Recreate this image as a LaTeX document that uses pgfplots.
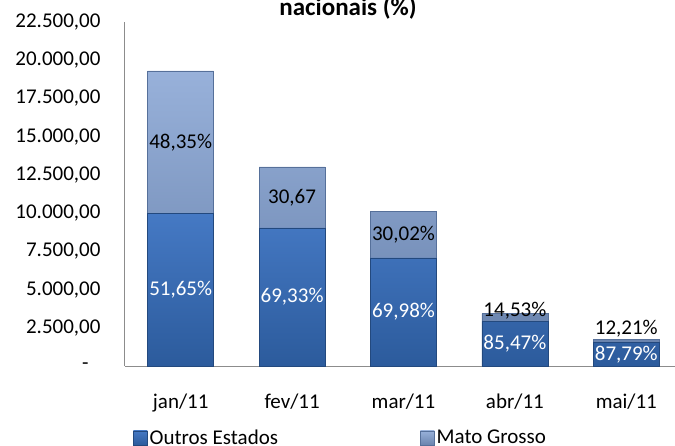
\documentclass[border=0pt]{standalone}
\usepackage{pgfplots}
\pgfplotsset{compat=1.18}
\usepackage{fontspec}
\setmainfont{Carlito}
\definecolor{oTop}{HTML}{4579C4}
\definecolor{oBot}{HTML}{2C5B9C}
\definecolor{oEdge}{HTML}{23497E}
\definecolor{mTop}{HTML}{98B1DA}
\definecolor{mBot}{HTML}{6A84AE}
\definecolor{mEdge}{HTML}{56709A}
\begin{document}
\begin{tikzpicture}[font=\fontsize{21}{25}\selectfont]
\begin{axis}[
  at={(125pt,79pt)}, anchor=south west,
  scale only axis, width=557pt, height=344pt,
  ybar stacked, bar width=66pt,
  xmin=-0.5, xmax=4.5, ymin=0, ymax=22500,
  scaled y ticks=false,
  xtick=data, xticklabels={jan/11,fev/11,mar/11,abr/11,mai/11},
  ytick={0,2500,5000,7500,10000,12500,15000,17500,20000,22500},
  yticklabels={{-\hspace*{12pt}},{2.500,00},{5.000,00},{7.500,00},{10.000,00},{12.500,00},{15.000,00},{17.500,00},{20.000,00},{22.500,00}},
  axis x line*=bottom, axis y line*=left,
  axis line style={-, draw=gray!90, line width=1pt},
  major tick length=0pt,
  yticklabel style={anchor=east, xshift=-21pt},
  xticklabel style={anchor=north, yshift=-24pt},
  clip=false,
  legend columns=2,
  legend cell align=left,
  legend style={draw=none, fill=none, at={(0.387,-0.209)}, anchor=center,
    /tikz/every even column/.append style={column sep=140pt}},
  legend image code/.code={\draw[#1] (0pt,-7pt) rectangle (14pt,7pt);},
  point meta=explicit symbolic,
  nodes near coords,
  visualization depends on=x \as \rawx,
  every node near coord/.append style={anchor=center, font=\fontsize{21}{25}\selectfont},
]
\addplot[top color=oTop, bottom color=oBot, draw=oEdge, line width=0.6pt,
  every node near coord/.append style={text=white}]
  coordinates {(0,9971) [51,65\%] (1,9030) [69,33\%] (2,7067) [69,98\%] (3,2926) [85,47\%] (4,1534) [87,79\%]};
\addlegendentry{Outros Estados}
\addplot[top color=mTop, bottom color=mBot, draw=mEdge, line width=0.6pt,
  every node near coord/.append style={text=black, yshift={ifthenelse(\rawx>3.5,12,ifthenelse(\rawx>2.5,7,0))}}]
  coordinates {(0,9335) [48,35\%] (1,3994) [30,67] (2,3031) [30,02\%] (3,497) [14,53\%] (4,213) [12,21\%]};
\addlegendentry{Mato Grosso}
\end{axis}
\node[font=\bfseries\fontsize{25}{30}\selectfont, anchor=base] at (348pt,429pt) {nacionais (\%)};
\pgfresetboundingbox
\path (0,0) rectangle (675pt,445pt);
\end{tikzpicture}
\end{document}
